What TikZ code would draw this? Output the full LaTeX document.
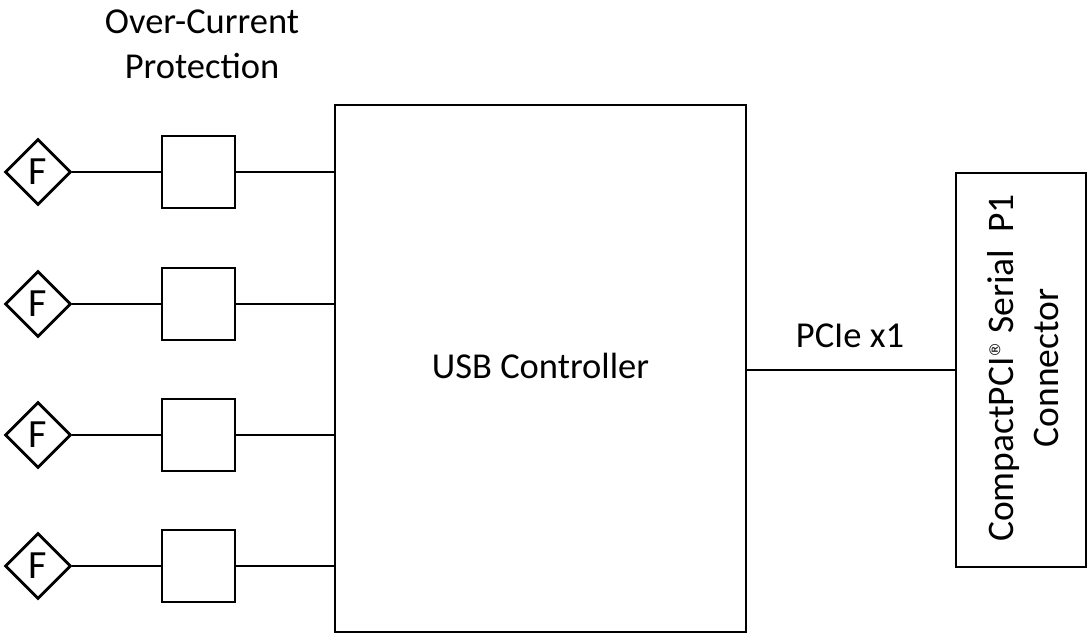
\documentclass[tikz,border=0pt]{standalone}
\usepackage{fontspec}
\setmainfont{Carlito}
\newfontfamily\symfont{DejaVu Sans}
\usetikzlibrary{shapes.geometric}
\newcommand{\regmark}{\smash{\raisebox{13pt}{\symfont\fontsize{15}{15}\selectfont ®}}}
\begin{document}
\begin{tikzpicture}[x=1pt,y=-1pt,
  every node/.style={font=\fontsize{36.5}{45}\selectfont, inner sep=0pt},
  blk/.style={draw, line width=2.8pt},
  wire/.style={line width=2.8pt},
  fuse/.style={draw, diamond, line width=2.8pt, minimum width=66pt, minimum height=66pt, font=\fontsize{40}{45}\selectfont},
  ocp/.style={draw, line width=2.8pt, minimum width=73pt, minimum height=72pt}]
\useasboundingbox (0,0) rectangle (1089,635);
\node[blk, minimum width=411pt, minimum height=527pt] (usb) at (540.5,368.5) {};
\node[anchor=base] (usbtxt) at (540.5,378) {USB Controller};
\node[blk, minimum width=130pt, minimum height=394pt] (conn) at (1021,370) {};
\node[rotate=90, align=center, font=\fontsize{37.5}{45}\selectfont] (conntxt) at (1023,368) {CompactPCI\regmark\ Serial\ \ P1\\Connector};
\draw[wire] (conn.west) -- (conn.west -| usb.east);
\node[anchor=base] (pcie) at (850,347) {PCIe x1};
\node[align=center, anchor=north] (octxt) at (202,10) {Over-Current\\Protection};
\foreach \i/\y in {1/172,2/304,3/435,4/566}{
  \node[fuse] (f\i) at (38,\y) {F};
  \node[ocp] (p\i) at (198.5,\y) {};
  \draw[wire] (f\i.east) -- (p\i.west);
  \draw[wire] (p\i.east) -- (p\i.east -| usb.west);
}
\end{tikzpicture}
\end{document}
